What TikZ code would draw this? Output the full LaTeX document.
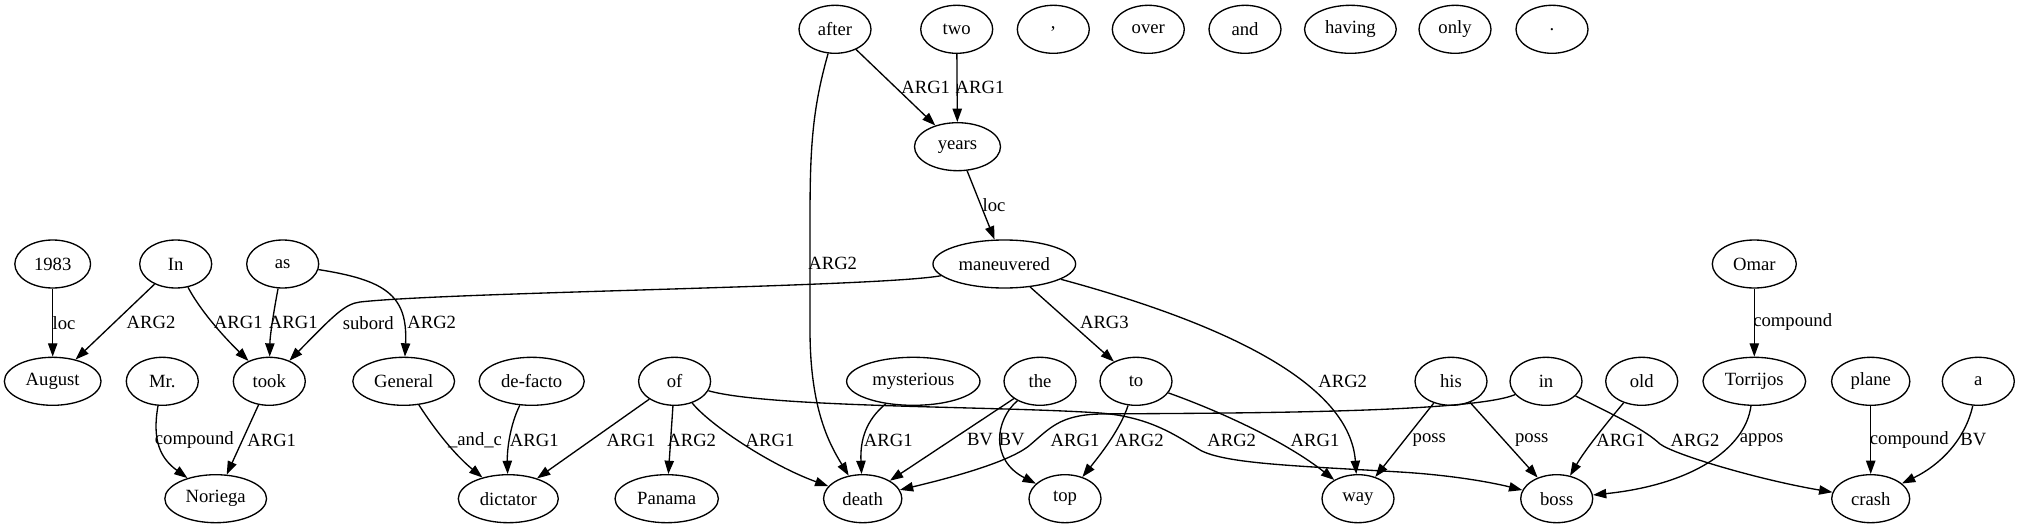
\documentclass[tikz,border=0pt]{standalone}
\usepackage{fontspec}
\setmainfont{Liberation Serif}
\usetikzlibrary{shapes.geometric,arrows.meta}
\begin{document}
\begin{tikzpicture}[x=0.75pt,y=-0.75pt,
  nd/.style={draw, ellipse, line width=1pt, inner sep=0pt, minimum width=54pt, minimum height=36pt, font=\fontsize{14}{16.8}\selectfont},
  edge/.style={draw, line width=1pt, -{Triangle[length=10pt,width=7pt]}},
  lbl/.style={font=\fontsize{14}{16.8}\selectfont, inner sep=0pt, anchor=center}]
\fill[white] (0,0) rectangle (2020,528);
\useasboundingbox (0,0) rectangle (2020,528);
% row 1
\node[nd] (nafter) at (835,29.3) {after};
\node[nd] (ntwo) at (956.7,29.3) {two};
\node[nd] (ncomma) at (1053.3,29.3) {,};
\node[nd] (nover) at (1148.3,29.3) {over};
\node[nd] (nand) at (1245,29.3) {and};
\node[nd, minimum width=68.8pt] (nhaving) at (1350.4,29.3) {having};
\node[nd] (nonly) at (1455,29.3) {only};
\node[nd] (ndot) at (1552,29.3) {.};
% row 2
\node[nd, minimum width=64.5pt] (nyears) at (957.5,146.7) {years};
% row 3
\node[nd, minimum width=56.8pt] (n1983) at (52.7,264) {1983};
\node[nd] (nIn) at (175.7,264) {In};
\node[nd] (nas) at (282.7,264) {as};
\node[nd, minimum width=107pt] (nman) at (1004.3,264) {maneuvered};
\node[nd, minimum width=63pt] (nOmar) at (1754.3,264) {Omar};
% row 4
\node[nd, minimum width=72.5pt] (nAugust) at (52.7,381.3) {August};
\node[nd] (nMr) at (162.3,381.3) {Mr.};
\node[nd] (ntook) at (269.3,381.3) {took};
\node[nd, minimum width=76.3pt] (nGeneral) at (403.7,381.3) {General};
\node[nd, minimum width=78.8pt] (ndefacto) at (531.7,381.3) {de-facto};
\node[nd] (nof) at (674.6,381.3) {of};
\node[nd, minimum width=100pt] (nmyst) at (913.3,381.3) {mysterious};
\node[nd] (nthe) at (1040,381.3) {the};
\node[nd] (nto) at (1136,381.3) {to};
\node[nd] (nhis) at (1451,381.3) {his};
\node[nd] (nin) at (1546,381.3) {in};
\node[nd] (nold) at (1641.7,381.3) {old};
\node[nd, minimum width=77pt] (nTorrijos) at (1754.3,381.3) {Torrijos};
\node[nd, minimum width=58.7pt] (nplane) at (1870.7,381.3) {plane};
\node[nd] (na) at (1978.3,381.3) {a};
% row 5
\node[nd, minimum width=76.3pt] (nNoriega) at (215.7,498.7) {Noriega};
\node[nd, minimum width=75pt] (ndictator) at (508.3,498.7) {dictator};
\node[nd, minimum width=77.5pt] (nPanama) at (666.7,498.7) {Panama};
\node[nd, minimum width=58.7pt] (ndeath) at (862.7,498.7) {death};
\node[nd] (ntop) at (1065,498.7) {top};
\node[nd] (nway) at (1358,498.7) {way};
\node[nd] (nboss) at (1556.7,498.7) {boss};
\node[nd, minimum width=58.5pt] (ncrash) at (1870.7,498.7) {crash};
% edges
\draw[edge] (n1983) -- (nAugust) node[lbl] at (64,322.7) {loc};
\draw[edge] (nIn) -- (nAugust) node[lbl] at (151,322.7) {ARG2};
\draw[edge] (nIn) .. controls (200,310) and (222,335) .. (ntook) node[lbl] at (238.3,322.7) {ARG1};
\draw[edge] (nas) .. controls (274,310) and (270,335) .. (ntook) node[lbl] at (293.3,322.7) {ARG1};
\draw[edge] (nas) .. controls (385,280) and (408,295) .. (nGeneral) node[lbl] at (431.7,322.7) {ARG2};
\draw[edge] (nman) .. controls (880,287) and (450,292) .. (360,302) .. controls (345,304) and (335,314) .. (ntook) node[lbl] at (368.3,322.7) {subord};
\draw[edge] (nMr) .. controls (152,440) and (160,458) .. (nNoriega) node[lbl] at (194.3,440) {compound};
\draw[edge] (ntook) -- (nNoriega) node[lbl] at (271.7,440) {ARG1};
\draw[edge] (nGeneral) .. controls (435,430) and (455,455) .. (ndictator) node[lbl] at (475,440) {\_and\_c};
\draw[edge] (ndefacto) .. controls (510,425) and (507,450) .. (ndictator) node[lbl] at (534.3,440) {ARG1};
\draw[edge] (nof) -- (ndictator) node[lbl] at (631,440) {ARG1};
\draw[edge] (nof) -- (nPanama) node[lbl] at (691.7,440) {ARG2};
\draw[edge] (nof) .. controls (710,425) and (770,465) .. (ndeath) node[lbl] at (770,440) {ARG1};
\draw[edge] (nof) .. controls (770,408) and (1000,406) .. (1100,413) .. controls (1150,417) and (1175,435) .. (1200,450) .. controls (1225,464) and (1300,466) .. (1400,472) .. controls (1450,475) and (1490,482) .. (nboss) node[lbl] at (1231.7,440) {ARG2};
\draw[edge] (nafter) -- (nyears) node[lbl] at (925.7,87.7) {ARG1};
\draw[edge] (nafter) .. controls (812,110) and (810,150) .. (810,220) -- (810,330) .. controls (810,410) and (830,445) .. (ndeath) node[lbl] at (832.7,263.3) {ARG2};
\draw[edge] (ntwo) -- (nyears) node[lbl] at (980,87.7) {ARG1};
\draw[edge] (nyears) -- (nman) node[lbl] at (994,205) {loc};
\draw[edge] (nman) -- (nto) node[lbl] at (1104.4,322.7) {ARG3};
\draw[edge] (nman) .. controls (1230,325) and (1350,385) .. (nway) node[lbl] at (1342.7,381.7) {ARG2};
\draw[edge] (nmyst) .. controls (866,420) and (860,440) .. (ndeath) node[lbl] at (888.3,440) {ARG1};
\draw[edge] (nthe) -- (ndeath) node[lbl] at (980,440) {BV};
\draw[edge] (nthe) .. controls (995,420) and (990,460) .. (ntop) node[lbl] at (1011.7,440) {BV};
\draw[edge] (nto) .. controls (1120,430) and (1100,455) .. (ntop) node[lbl] at (1139.3,440) {ARG2};
\draw[edge] (nto) .. controls (1230,415) and (1290,445) .. (nway) node[lbl] at (1315,440) {ARG1};
\draw[edge] (nin) .. controls (1470,414) and (1200,413) .. (1100,414) .. controls (1060,415) and (1050,428) .. (1030,445) .. controls (1010,462) and (950,478) .. (ndeath) node[lbl] at (1075,440) {ARG1};
\draw[edge] (nin) .. controls (1620,418) and (1645,430) .. (1660,444) .. controls (1675,455) and (1760,480) .. (ncrash) node[lbl] at (1695,440) {ARG2};
\draw[edge] (nhis) -- (nway) node[lbl] at (1429.3,440) {poss};
\draw[edge] (nhis) -- (nboss) node[lbl] at (1531.7,440) {poss};
\draw[edge] (nold) .. controls (1605,425) and (1585,450) .. (nboss) node[lbl] at (1620.7,440) {ARG1};
\draw[edge] (nTorrijos) .. controls (1745,450) and (1690,485) .. (nboss) node[lbl] at (1761.7,440) {appos};
\draw[edge] (nOmar) -- (nTorrijos) node[lbl] at (1792.7,321.7) {compound};
\draw[edge] (nplane) -- (ncrash) node[lbl] at (1909.3,440) {compound};
\draw[edge] (na) .. controls (1965,440) and (1940,465) .. (ncrash) node[lbl] at (1973.3,440) {BV};
\end{tikzpicture}
\end{document}
